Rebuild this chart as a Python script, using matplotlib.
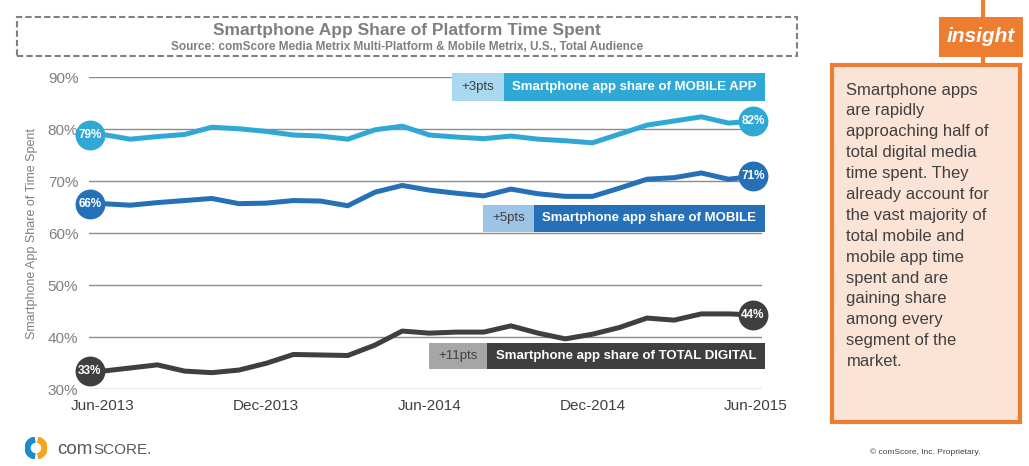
import matplotlib
matplotlib.use('Agg')
import matplotlib.pyplot as plt
from matplotlib.patches import Rectangle, Wedge
from matplotlib.lines import Line2D

plt.rcParams['font.family'] = ['Liberation Sans', 'DejaVu Sans']

# data
months = ['Jun-2013', 'Jul-2013', 'Aug-2013', 'Sep-2013', 'Oct-2013', 'Nov-2013',
          'Dec-2013', 'Jan-2014', 'Feb-2014', 'Mar-2014', 'Apr-2014', 'May-2014',
          'Jun-2014', 'Jul-2014', 'Aug-2014', 'Sep-2014', 'Oct-2014', 'Nov-2014',
          'Dec-2014', 'Jan-2015', 'Feb-2015', 'Mar-2015', 'Apr-2015', 'May-2015',
          'Jun-2015']
app_share = [79.0, 78.1, 78.6, 79.0, 80.4, 80.1, 79.6, 78.9, 78.7, 78.1, 79.9, 80.6,
             78.9, 78.5, 78.2, 78.7, 78.1, 77.8, 77.4, 79.1, 80.8, 81.6, 82.4, 81.2, 81.6]
mobile_share = [65.7, 65.4, 65.9, 66.3, 66.7, 65.7, 65.8, 66.3, 66.2, 65.3, 67.9, 69.2,
                68.3, 67.7, 67.2, 68.5, 67.6, 67.1, 67.1, 68.7, 70.4, 70.7, 71.6, 70.4, 71.0]
total_share = [33.5, 34.1, 34.7, 33.5, 33.2, 33.7, 35.0, 36.7, 36.6, 36.5, 38.5, 41.2,
               40.8, 41.0, 41.0, 42.2, 40.8, 39.7, 40.6, 41.9, 43.7, 43.3, 44.5, 44.5, 44.3]
start_labels = ['79%', '66%', '33%']
end_labels = ['82%', '71%', '44%']
series_names = ['Smartphone app share of MOBILE APP',
                'Smartphone app share of MOBILE',
                'Smartphone app share of TOTAL DIGITAL']
gains = ['+3pts', '+5pts', '+11pts']
yticks = [30, 40, 50, 60, 70, 80, 90]
xtick_idx = [0, 6, 12, 18, 24]

insight_lines = ['Smartphone apps', 'are rapidly', 'approaching half of',
                 'total digital media', 'time spent. They', 'already account for',
                 'the vast majority of', 'total mobile and', 'mobile app time',
                 'spent and are', 'gaining share', 'among every',
                 'segment of the', 'market.']

colors = ['#30A8D6', '#2670B8', '#3F3F3F']
light = ['#A8D9EF', '#9DC3E6', '#A6A6A6']

W, H = 1029, 466
fig = plt.figure(figsize=(W / 100, H / 100), dpi=100)


def fx(x):
    return x / W


def fy(y):
    return 1 - y / H


def prect(x0, y0, x1, y1, **kw):
    fig.add_artist(Rectangle((fx(x0), fy(y1)), fx(x1) - fx(x0), fy(y0) - fy(y1),
                             transform=fig.transFigure, **kw))


def ptext(x, y, s, **kw):
    return fig.text(fx(x), fy(y), s, **kw)


# main axes
left, right, top, bottom = 89.4, 761.7, 77.3, 389.3
ax = fig.add_axes([fx(left), fy(bottom), fx(right) - fx(left), fy(top) - fy(bottom)])
x = list(range(len(months)))
ax.set_xlim(-0.5, 24.22)
ax.set_ylim(30, 90)
ax.set_yticks(yticks)
ax.set_yticklabels([f'{v}%' for v in yticks], color='#7F7F7F', fontsize=11)
ax.set_xticks(xtick_idx)
ax.set_xticklabels([months[i] for i in xtick_idx], color='#404040', fontsize=11)
ax.tick_params(length=0)
ax.tick_params(axis='y', pad=8)
ax.tick_params(axis='x', pad=7)
for s in ax.spines.values():
    s.set_visible(False)
ax.grid(axis='y', color='#8C8C8C', lw=1)
ax.set_axisbelow(True)
ax.set_ylabel('Smartphone App Share of Time Spent', color='#7F7F7F', fontsize=9)
ax.yaxis.set_label_coords(-0.076, 0.5)

for vals, c, sl, el in zip([app_share, mobile_share, total_share], colors,
                           start_labels, end_labels):
    ax.plot(x, vals, color=c, lw=3.6, solid_joinstyle='round', zorder=3)
    x0, x1 = ax.get_xlim()[0] + 0.02, 23.9
    ax.plot([x0, x1], [vals[0], vals[-1]], 'o', ms=21.5, color=c, mec='none', zorder=4,
            clip_on=False)
    ax.text(x0, vals[0], sl, color='white', fontsize=8.5, fontweight='bold',
            ha='center', va='center', zorder=5)
    ax.text(x1, vals[-1], el, color='white', fontsize=8.5, fontweight='bold',
            ha='center', va='center', zorder=5)

# legend boxes
boxes = [(452, 504, 73.3, 100.7), (483, 534, 205, 231.7), (429, 486.7, 343.3, 369.3)]
for (a, b, y0, y1), c, lc, g, name in zip(boxes, colors, light, gains, series_names):
    prect(a, y0, b, y1, color=lc, lw=0)
    prect(b, y0, 765, y1, color=c, lw=0)
    ptext((a + b) / 2, (y0 + y1) / 2, g, color='#404040', fontsize=9.5,
          ha='center', va='center')
    ptext((b + 765) / 2, (y0 + y1) / 2, name, color='white', fontsize=9.5,
          fontweight='bold', ha='center', va='center')

# title box
prect(17, 17, 797, 56, fill=False, ec='#808080', lw=1.5, ls=(0, (3, 1.5)))
ptext(407, 31, 'Smartphone App Share of Platform Time Spent', color='#7F7F7F',
      fontsize=12.5, fontweight='bold', ha='center', va='center')
ptext(407, 47, 'Source: comScore Media Metrix Multi-Platform & Mobile Metrix, U.S., Total Audience',
      color='#7F7F7F', fontsize=8.5, fontweight='bold', ha='center', va='center')

# insight panel
orange = '#ED7D31'
fig.add_artist(Line2D([fx(983), fx(983)], [fy(0), fy(65)], color=orange, lw=3,
                      transform=fig.transFigure))
prect(939, 16.7, 1022.7, 57.3, color=orange, lw=0)
ptext(981, 37, 'insight', color='white', fontsize=15, fontweight='bold',
      style='italic', ha='center', va='center')
prect(832, 65.3, 1019.7, 422, fc='#FBE3D6', ec=orange, lw=3)
for i, line in enumerate(insight_lines):
    ptext(846.5, 90 + i * 20.9, line, color='#404040', fontsize=12, ha='left', va='center')

ptext(925, 452, '\u00a9 comScore, Inc. Proprietary.', color='#404040', fontsize=6,
      ha='center', va='center')

# comScore logo
lax = fig.add_axes([fx(25), fy(459), fx(47) - fx(25), fy(437) - fy(459)])
lax.set_xlim(-1, 1)
lax.set_ylim(-1, 1)
lax.set_aspect('equal')
lax.axis('off')
lax.add_patch(Wedge((0, 0), 1, 100, 260, width=0.45, color='#1B8CCB'))
lax.add_patch(Wedge((0, 0), 1, -75, 75, width=0.45, color='#F6A31B'))
t = ptext(57, 449, 'com', color='#595959', fontsize=13.5, ha='left', va='center')
fig.canvas.draw()
bb = t.get_window_extent()
ptext(bb.x1 + 1, 449.5, 'SCORE.', color='#595959', fontsize=11, ha='left', va='center')

fig.savefig('out.png', dpi=100)
